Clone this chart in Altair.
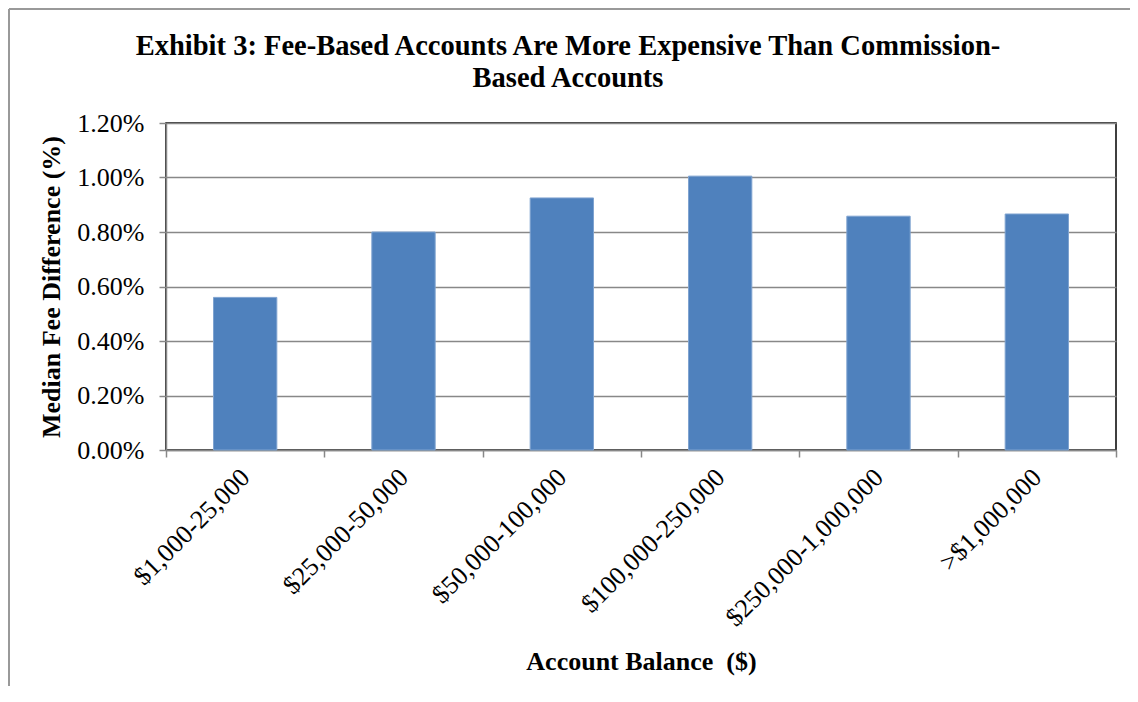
import altair as alt
import pandas as pd

categories = ["$1,000-25,000", "$25,000-50,000", "$50,000-100,000",
              "$100,000-250,000", "$250,000-1,000,000", ">$1,000,000"]
values = [0.0056, 0.0080, 0.00925, 0.01005, 0.00858, 0.00866]
y_ticks = [0.0, 0.002, 0.004, 0.006, 0.008, 0.010, 0.012]

df = pd.DataFrame({"cat": categories, "val": values})

FONT = "Liberation Serif"

bars = alt.Chart(df).mark_bar(
    color="#4F81BD", stroke="#7FA3D0", strokeWidth=1,
    width=alt.RelativeBandSize(0.4)
).encode(
    x=alt.X("cat:N", sort=categories,
            scale=alt.Scale(paddingInner=0, paddingOuter=0),
            axis=alt.Axis(title="Account Balance\u00a0 ($)", labelAngle=-45,
                          labelAlign="right", labelBaseline="middle",
                          labelPadding=16, labelLimit=500, tickBand="extent",
                          tickSize=7, titlePadding=18)),
    y=alt.Y("val:Q", scale=alt.Scale(domain=[0, 0.012], nice=False),
            axis=alt.Axis(title="Median Fee Difference (%)", format=".2%",
                          values=y_ticks, tickSize=7, labelPadding=15,
                          titlePadding=12)),
)

frame_left = alt.Chart(df).mark_rule(color="#999999", strokeWidth=2).encode(
    x=alt.value(-157), y=alt.value(-114), y2=alt.value(590))
frame_top = alt.Chart(df).mark_rule(color="#999999", strokeWidth=2).encode(
    x=alt.value(-157), x2=alt.value(964), y=alt.value(-114))

chart = alt.layer(bars, frame_left, frame_top).properties(
    width=950, height=327,
    title=alt.TitleParams(
        ["Exhibit 3: Fee-Based Accounts Are More Expensive Than Commission-",
         "Based Accounts"],
        anchor="middle", dx=-73, offset=-84, font=FONT, fontSize=28.5,
        fontWeight="bold", color="black", lineHeight=32),
    padding={"left": 158, "top": 115, "right": 14, "bottom": 236},
    autosize=alt.AutoSizeParams(type="none"),
).configure_view(
    stroke="black", strokeWidth=1.5
).configure_axis(
    labelFont=FONT, titleFont=FONT, labelFontSize=26, titleFontSize=26,
    labelColor="black", titleColor="black", titleFontWeight="bold",
    domainColor="#888888", domainWidth=1.5, tickColor="#888888", tickWidth=1.5,
    gridColor="#888888", gridWidth=1.5,
).configure_axisX(grid=False)

chart.save("out.html", embed_options={"renderer": "svg", "actions": False})
